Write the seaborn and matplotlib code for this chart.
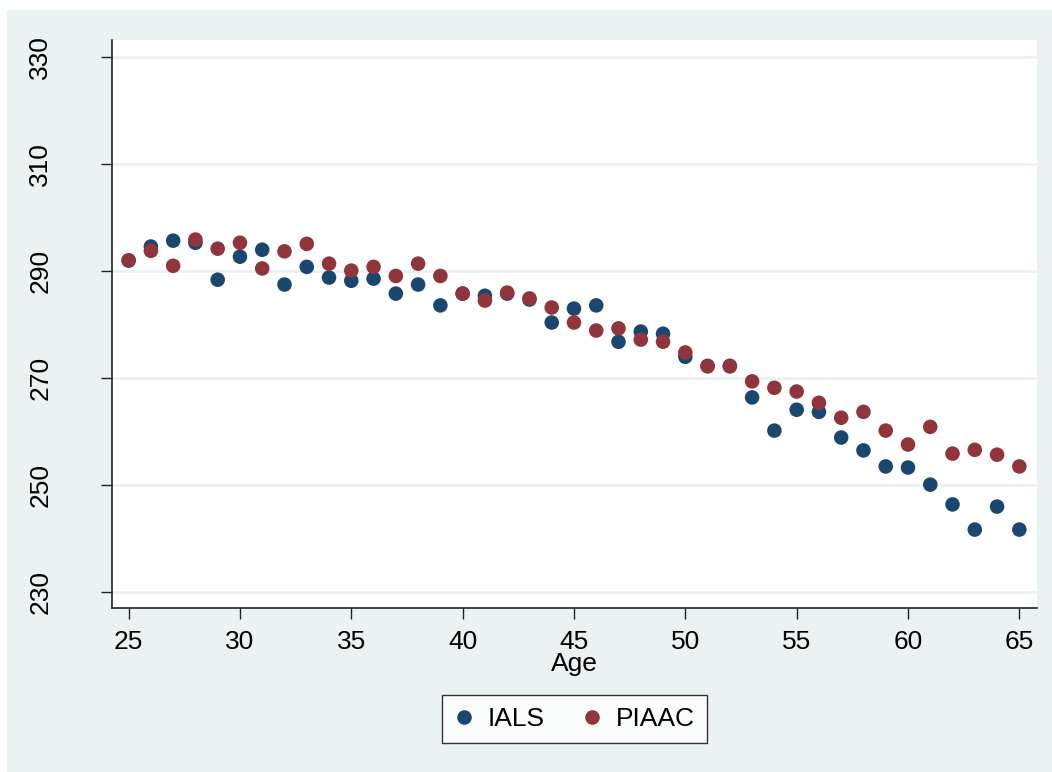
import numpy as np
import pandas as pd
import matplotlib
matplotlib.use("Agg")
import matplotlib.pyplot as plt
from matplotlib.patches import Rectangle
import seaborn as sns

# ── data ──────────────────────────────────────────────────────────────────────
age = list(range(25, 66))

ials = [291.9, 294.5, 295.6, 295.2, 288.3, 292.6, 293.9, 287.4, 290.7, 288.7,
        288.1, 288.5, 285.7, 287.4, 283.5, 285.7, 285.3, 285.7, 284.6, 280.3,
        282.9, 283.5, 276.7, 278.6, 278.2, 273.9, 272.2, 272.2, 266.3, 260.1,
        264.0, 263.6, 258.8, 256.4, 253.4, 253.2, 250.0, 246.3, 241.6, 245.9,
        241.6]

piaac = [291.9, 293.7, 290.9, 295.8, 294.1, 295.2, 290.4, 293.6, 295.0, 291.3,
         290.0, 290.7, 289.0, 291.3, 289.0, 285.7, 284.4, 285.9, 284.8, 283.1,
         280.3, 278.8, 279.2, 277.1, 276.7, 274.7, 272.1, 272.1, 269.3, 268.1,
         267.4, 265.3, 262.5, 263.6, 260.1, 257.5, 260.8, 255.8, 256.5, 255.6,
         253.4]

series = ["IALS", "PIAAC"]
y_ticks = [230, 250, 270, 290, 310, 330]
x_ticks = [25, 30, 35, 40, 45, 50, 55, 60, 65]

PALETTE = {"IALS": "#1a476f", "PIAAC": "#90353b"}
BG = "#eaf2f3"

df = pd.DataFrame({
    "Age": age * 2,
    "Score": ials + piaac,
    "Survey": ["IALS"] * len(age) + ["PIAAC"] * len(age),
})

sns.set_style("white")
plt.rcParams["font.family"] = ["Liberation Sans", "DejaVu Sans"]
plt.rcParams["text.color"] = "black"
plt.rcParams["xtick.color"] = "black"
plt.rcParams["ytick.color"] = "black"
plt.rcParams["axes.labelcolor"] = "black"

fig = plt.figure(figsize=(10.52, 7.72), dpi=100, facecolor="white")
fig.patches.append(Rectangle((7 / 1052, 1 / 772), 1, 761 / 772,
                             transform=fig.transFigure, color=BG, zorder=-10))
ax = fig.add_axes([111.7 / 1052, 1 - 607.7 / 772, 925 / 1052, 567.7 / 772])
ax.set_facecolor("white")

sns.scatterplot(data=df, x="Age", y="Score", hue="Survey", hue_order=series,
                palette=PALETTE, s=110, linewidth=0, ax=ax, zorder=3)

ax.set_xlim(24.24, 65.78)
ax.set_ylim(227.0, 333.1)
ax.set_xticks(x_ticks)
ax.set_yticks(y_ticks)
ax.yaxis.grid(True, color=BG, lw=2)
ax.xaxis.grid(False)
ax.set_axisbelow(True)

for side in ["top", "right"]:
    ax.spines[side].set_visible(False)
for side in ["left", "bottom"]:
    ax.spines[side].set_color("#222222")
    ax.spines[side].set_linewidth(1.2)

ax.tick_params(axis="both", direction="out", length=7.7, width=1,
               color="#222222", labelsize=19, bottom=True, left=True)
ax.tick_params(axis="x", pad=8)
ax.tick_params(axis="y", pad=35)
for lbl in ax.get_yticklabels():
    lbl.set_rotation(90)
    lbl.set_va("center")

ax.set_xlabel("Age", fontsize=19, labelpad=-1)
ax.set_ylabel("")

sns.move_legend(ax, "center", bbox_to_anchor=(0.5, -0.196), ncol=2,
                title=None, frameon=True, fontsize=19, markerscale=1.0,
                handlelength=0.8, handletextpad=0.5, columnspacing=1.4,
                borderpad=0.45)
leg = ax.get_legend()
leg.get_frame().set_edgecolor("black")
leg.get_frame().set_linewidth(1)
leg.get_frame().set_boxstyle("square", pad=0)

fig.savefig("out.png", dpi=100, facecolor="white")
